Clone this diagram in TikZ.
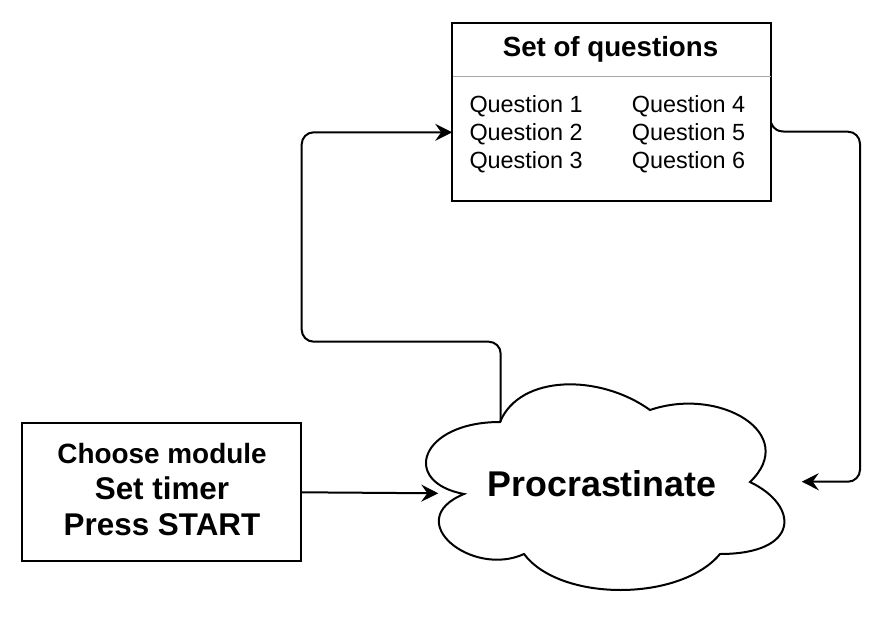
\documentclass[tikz,border=0pt]{standalone}
\usepackage{fontspec}
\setmainfont{Liberation Sans}
\usetikzlibrary{arrows.meta}
\begin{document}
\begin{tikzpicture}[x=1pt,y=-1pt,
  boxed/.style={draw,line width=2pt,inner sep=0pt,outer sep=0pt},
  conn/.style={line width=2pt,-{Stealth[length=17pt,width=17pt,inset=6pt]}},
  txt/.style={inner sep=0pt,anchor=base}
]
\useasboundingbox (0,0) rectangle (895,637);
% Set of questions box
\node[boxed,minimum width=319pt,minimum height=178pt] (qbox) at (611.7,112.2) {};
\draw[line width=1.5pt,gray!70] (452.7,76.7) -- (770.7,76.7);
\node[txt] (qtitle) at (610.5,56.7) {\fontsize{27.7}{33}\selectfont\bfseries Set of questions};
\node[txt,anchor=base west] (q1) at (469.3,112.7) {\fontsize{23.4}{28}\selectfont Question 1};
\node[txt,anchor=base west] (q2) at (469.3,140.7) {\fontsize{23.4}{28}\selectfont Question 2};
\node[txt,anchor=base west] (q3) at (469.3,168.5) {\fontsize{23.4}{28}\selectfont Question 3};
\node[txt,anchor=base west] (q4) at (631.7,112.7) {\fontsize{23.4}{28}\selectfont Question 4};
\node[txt,anchor=base west] (q5) at (631.7,140.7) {\fontsize{23.4}{28}\selectfont Question 5};
\node[txt,anchor=base west] (q6) at (631.7,168.5) {\fontsize{23.4}{28}\selectfont Question 6};
% Start box
\node[boxed,minimum width=279pt,minimum height=138pt] (start) at (161.7,492.2) {};
\node[txt] (s1) at (162,463) {\fontsize{27.9}{33}\selectfont\bfseries Choose module};
\node[txt] (s2) at (162,499) {\fontsize{31.4}{37}\selectfont\bfseries Set timer};
\node[txt] (s3) at (162,535) {\fontsize{31.4}{37}\selectfont\bfseries Press START};
% Cloud
\draw[line width=2pt,line join=miter] (500,422)
  .. controls (420,422) and (400,482) .. (464,494)
  .. controls (400,520.4) and (472,578) .. (524,554)
  .. controls (560,602) and (680,602) .. (720,554)
  .. controls (800,554) and (800,506) .. (750,482)
  .. controls (800,434) and (720,386) .. (650,410)
  .. controls (600,374) and (520,374) .. (500,422) -- cycle;
\node[txt] (proc) at (602,496.7) {\fontsize{35.8}{42}\selectfont\bfseries Procrastinate};
\coordinate (cl) at (438.3,493.3);
\coordinate (cr) at (801.7,481.7);
\coordinate (ctop) at (500.7,422);
% Connectors
\draw[conn] (start.east |- 0,492.3) -- (cl);
\draw[conn,rounded corners=12pt] (ctop) -- (500.7,341.7) -- (301.7,341.7) -- (301.7,132.3) -- (qbox.west |- 0,132.3);
\draw[conn] (qbox.east |- 0,123) .. controls (774,130) and (778,131.7) .. (788,131.7)
  [rounded corners=12pt] -- (860,131.7) -- (860,481.7) -- (cr);
\end{tikzpicture}
\end{document}
